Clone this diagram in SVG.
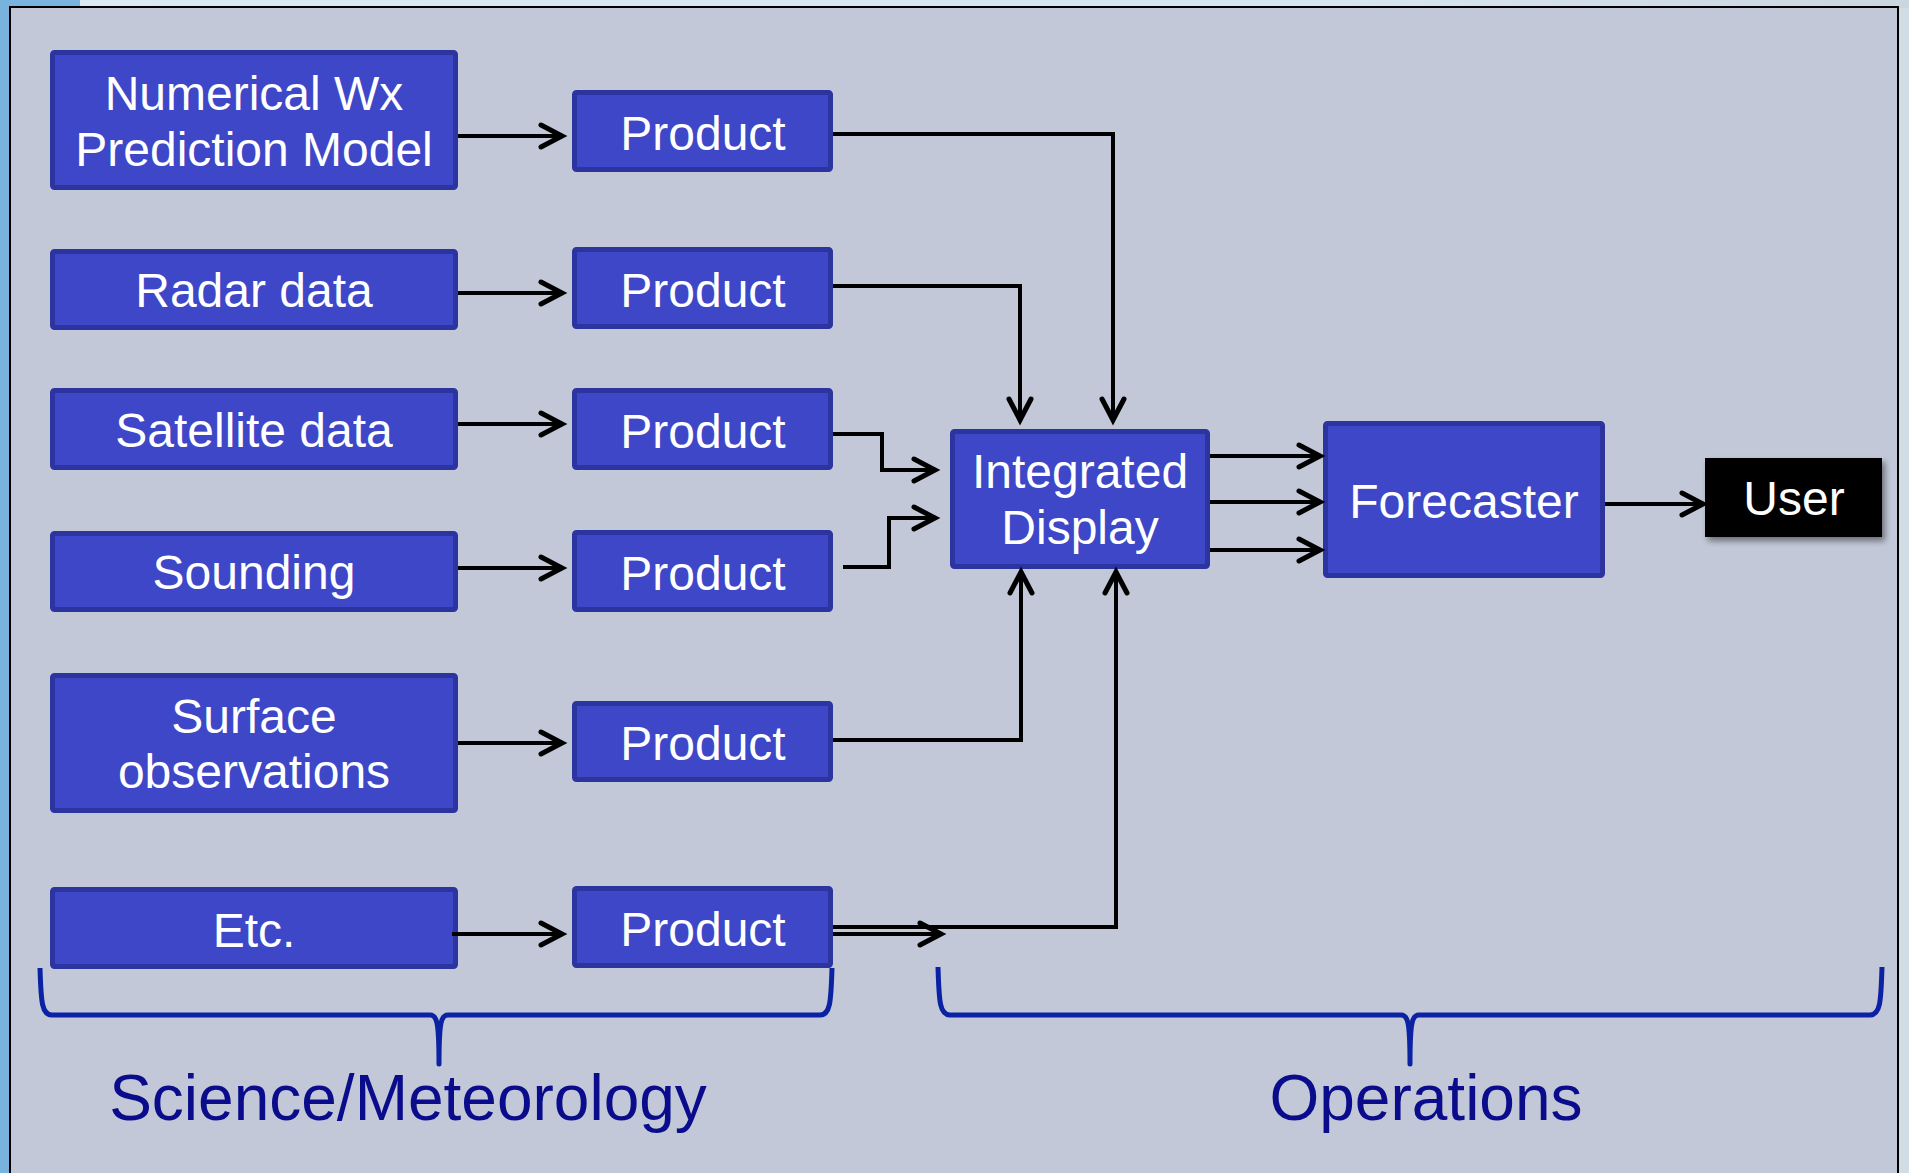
<svg xmlns="http://www.w3.org/2000/svg" width="1909" height="1173" viewBox="0 0 1909 1173">
  <defs>
    <linearGradient id="topband" x1="0" y1="0" x2="1" y2="0">
      <stop offset="0" stop-color="#dbe9f5"/>
      <stop offset="0.7" stop-color="#d7e5f1"/>
      <stop offset="1" stop-color="#c9d6e0"/>
    </linearGradient>
    <marker id="arrow" markerUnits="userSpaceOnUse" markerWidth="40" markerHeight="40" viewBox="-30 -20 40 40" refX="0" refY="0" orient="auto">
      <path d="M-21,-11 L0,0 L-21,11" fill="none" stroke="#000" stroke-width="5" stroke-linecap="round" stroke-linejoin="miter"/>
    </marker>
    <filter id="shadow" x="-10%" y="-10%" width="130%" height="140%">
      <feDropShadow dx="3" dy="4" stdDeviation="3" flood-color="#000" flood-opacity="0.45"/>
    </filter>
  </defs>
  <style>
    .box { fill: #3d47c7; stroke: #2b349f; stroke-width: 5; }
    .lbl { font-family: "Liberation Sans", Arial, sans-serif; font-size: 48px; fill: #ffffff; text-anchor: middle; }
    .link { fill: none; stroke: #000; stroke-width: 4; stroke-linejoin: miter; }
    .brace { fill: none; stroke: #0b22a4; stroke-width: 5; stroke-linejoin: round; stroke-linecap: butt; }
    .group { font-family: "Liberation Sans", Arial, sans-serif; font-size: 64px; fill: #0a0c8c; text-anchor: middle; }
  </style>

  <!-- window chrome around the slide -->
  <rect x="0" y="0" width="1909" height="1173" fill="#d2dce5"/>
  <rect x="0" y="0" width="1909" height="8" fill="url(#topband)"/>
  <rect x="0" y="0" width="80" height="8" fill="#7ab4de"/>
  <rect x="0" y="0" width="10" height="1173" fill="#78b2dd"/>

  <!-- slide panel -->
  <rect x="10" y="7" width="1888" height="1180" fill="#c2c8d7" stroke="#000" stroke-width="2"/>

  <!-- source boxes -->
  <g id="nwp">
    <rect class="box" x="52.5" y="52.5" width="403" height="135" rx="2"/>
    <text class="lbl" x="254" y="110">Numerical Wx</text>
    <text class="lbl" x="254" y="166">Prediction Model</text>
  </g>
  <g id="radar">
    <rect class="box" x="52.5" y="251.5" width="403" height="76" rx="2"/>
    <text class="lbl" x="254" y="307">Radar data</text>
  </g>
  <g id="satellite">
    <rect class="box" x="52.5" y="390.5" width="403" height="77" rx="2"/>
    <text class="lbl" x="254" y="447">Satellite data</text>
  </g>
  <g id="sounding">
    <rect class="box" x="52.5" y="533.5" width="403" height="76" rx="2"/>
    <text class="lbl" x="254" y="589">Sounding</text>
  </g>
  <g id="surface">
    <rect class="box" x="52.5" y="675.5" width="403" height="135" rx="2"/>
    <text class="lbl" x="254" y="733">Surface</text>
    <text class="lbl" x="254" y="788">observations</text>
  </g>
  <g id="etc">
    <rect class="box" x="52.5" y="889.5" width="403" height="77" rx="2"/>
    <text class="lbl" x="254" y="947">Etc.</text>
  </g>

  <!-- product boxes -->
  <g id="product1">
    <rect class="box" x="574.5" y="92.5" width="256" height="77" rx="2"/>
    <text class="lbl" x="703" y="150">Product</text>
  </g>
  <g id="product2">
    <rect class="box" x="574.5" y="249.5" width="256" height="77" rx="2"/>
    <text class="lbl" x="703" y="307">Product</text>
  </g>
  <g id="product3">
    <rect class="box" x="574.5" y="390.5" width="256" height="77" rx="2"/>
    <text class="lbl" x="703" y="448">Product</text>
  </g>
  <g id="product4">
    <rect class="box" x="574.5" y="532.5" width="256" height="77" rx="2"/>
    <text class="lbl" x="703" y="590">Product</text>
  </g>
  <g id="product5">
    <rect class="box" x="574.5" y="703.5" width="256" height="76" rx="2"/>
    <text class="lbl" x="703" y="760">Product</text>
  </g>
  <g id="product6">
    <rect class="box" x="574.5" y="888.5" width="256" height="77" rx="2"/>
    <text class="lbl" x="703" y="946">Product</text>
  </g>

  <!-- operations side -->
  <g id="integrated-display">
    <rect class="box" x="952.5" y="431.5" width="255" height="135" rx="2"/>
    <text class="lbl" x="1080" y="488">Integrated</text>
    <text class="lbl" x="1080" y="544">Display</text>
  </g>
  <g id="forecaster">
    <rect class="box" x="1325.5" y="423.5" width="277" height="152" rx="2"/>
    <text class="lbl" x="1464" y="518">Forecaster</text>
  </g>
  <g id="user">
    <rect x="1705" y="458" width="177" height="79" fill="#000" filter="url(#shadow)"/>
    <text class="lbl" x="1794" y="515">User</text>
  </g>

  <!-- connectors -->
  <g id="connectors">
    <path class="link" d="M458 136 H562" marker-end="url(#arrow)"/>
    <path class="link" d="M458 293 H562" marker-end="url(#arrow)"/>
    <path class="link" d="M458 424 H562" marker-end="url(#arrow)"/>
    <path class="link" d="M458 568 H562" marker-end="url(#arrow)"/>
    <path class="link" d="M458 743 H562" marker-end="url(#arrow)"/>
    <path class="link" d="M452 934 H562" marker-end="url(#arrow)"/>

    <path class="link" d="M833 134 H1113 V420" marker-end="url(#arrow)"/>
    <path class="link" d="M833 286 H1020 V420" marker-end="url(#arrow)"/>
    <path class="link" d="M833 434 H882 V470 H935" marker-end="url(#arrow)"/>
    <path class="link" d="M843 567 H889 V518 H935" marker-end="url(#arrow)"/>
    <path class="link" d="M833 740 H1021 V572" marker-end="url(#arrow)"/>
    <path class="link" d="M833 927 H1116 V572" marker-end="url(#arrow)"/>
    <path class="link" d="M833 934 H941" marker-end="url(#arrow)"/>

    <path class="link" d="M1210 456 H1320" marker-end="url(#arrow)"/>
    <path class="link" d="M1210 502 H1320" marker-end="url(#arrow)"/>
    <path class="link" d="M1210 550 H1320" marker-end="url(#arrow)"/>
    <path class="link" d="M1605 504 H1703" marker-end="url(#arrow)"/>
  </g>

  <!-- grouping braces and their captions -->
  <g id="science-brace">
    <path class="brace" d="M40 968 C41 1003 42 1015 52 1015 H430 C437 1015 439 1022 439 1064 C439 1022 441 1015 448 1015 H820 C830 1015 831 1003 832 968"/>
    <text class="group" x="408" y="1120">Science/Meteorology</text>
  </g>
  <g id="operations-brace">
    <path class="brace" d="M938 967 C939 1003 940 1015 950 1015 H1401 C1408 1015 1410 1022 1410 1064 C1410 1022 1412 1015 1419 1015 H1870 C1880 1015 1881 1003 1882 967"/>
    <text class="group" x="1426" y="1120">Operations</text>
  </g>
</svg>
